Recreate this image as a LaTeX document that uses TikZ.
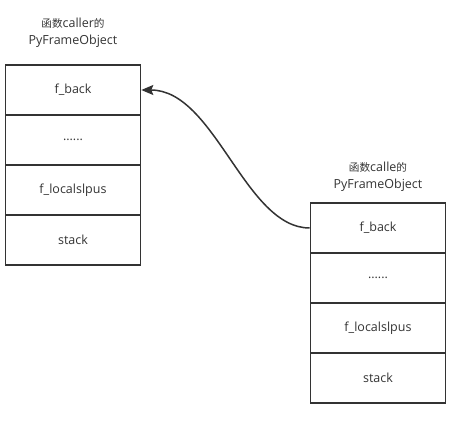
\documentclass[tikz,border=0pt]{standalone}
\usepackage{fontspec}
\setmainfont{Open Sans}
\newfontfamily\cjk[Scale=0.85]{Noto Sans CJK SC}
\usetikzlibrary{arrows.meta}
\definecolor{ln}{HTML}{333333}
\begin{document}
\begin{tikzpicture}[x=1pt,y=-1pt,
  cell/.style={draw=ln, line width=1.6pt, minimum width=135pt, minimum height=50pt, inner sep=0pt, text=ln, font=\fontsize{12.5}{14}\selectfont},
  ttl/.style={text=ln, align=center, font=\fontsize{12.5}{16.5}\selectfont},
  link/.style={draw=ln, line width=1.5pt, -{Stealth[length=12pt,width=10pt,inset=2pt]}}]
\useasboundingbox (0,0) rectangle (467,436);
% left stack
\node[cell] (l1) at (73,90) {f\_back};
\node[cell] (l2) at (73,140) {......};
\node[cell] (l3) at (73,190) {f\_localslpus};
\node[cell] (l4) at (73,240) {stack};
\node[ttl] (lt) at (73,33) {{\cjk 函数}caller{\cjk 的}\\PyFrameObject};
% right stack
\node[cell] (r1) at (378,228) {f\_back};
\node[cell] (r2) at (378,278) {......};
\node[cell] (r3) at (378,328) {f\_localslpus};
\node[cell] (r4) at (378,378) {stack};
\node[ttl] (rt) at (378,177) {{\cjk 函数}calle{\cjk 的}\\PyFrameObject};
\draw[link] (r1.west) .. controls (245,228) and (215,90) .. (l1.east);
\end{tikzpicture}
\end{document}
